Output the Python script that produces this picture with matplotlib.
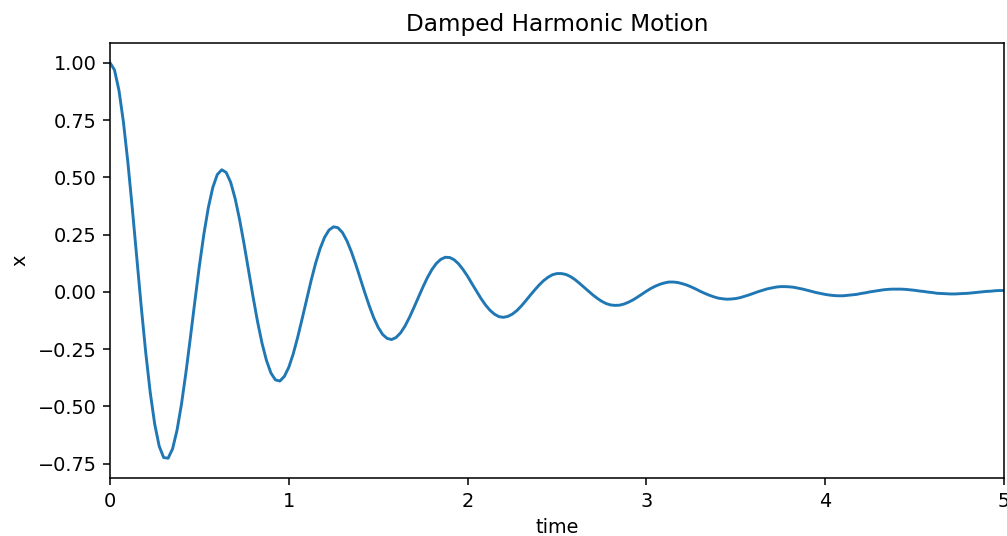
import numpy as np
import matplotlib
matplotlib.use("Agg")
import matplotlib.pyplot as plt

# time axis: 0 .. 5 in steps of 0.025 (201 samples)
t_start, t_end, n_samples = 0.0, 5.0, 201
time = np.linspace(t_start, t_end, n_samples)

# displacement values
x = [
    1.000, 0.969, 0.880, 0.742, 0.565, 0.362, 0.147, -0.067, -0.266, -0.439,
    -0.577, -0.673, -0.723, -0.726, -0.685, -0.603, -0.489, -0.350, -0.197, -0.039,
    0.114, 0.252, 0.368, 0.456, 0.512, 0.533, 0.521, 0.478, 0.407, 0.315,
    0.208, 0.094, -0.021, -0.129, -0.223, -0.299, -0.354, -0.384, -0.389, -0.369,
    -0.329, -0.270, -0.197, -0.116, -0.032, 0.050, 0.125, 0.189, 0.238, 0.270,
    0.284, 0.280, 0.259, 0.223, 0.175, 0.119, 0.058, -0.003, -0.061, -0.113,
    -0.155, -0.186, -0.203, -0.208, -0.199, -0.179, -0.149, -0.111, -0.068, -0.023,
    0.021, 0.062, 0.097, 0.124, 0.142, 0.151, 0.150, 0.140, 0.122, 0.097,
    0.068, 0.035, 0.003, -0.029, -0.057, -0.080, -0.097, -0.108, -0.111, -0.107,
    -0.097, -0.082, -0.062, -0.039, -0.015, 0.008, 0.030, 0.049, 0.064, 0.075,
    0.080, 0.080, 0.076, 0.067, 0.054, 0.038, 0.021, 0.004, -0.013, -0.028,
    -0.041, -0.051, -0.057, -0.059, -0.058, -0.053, -0.045, -0.035, -0.023, -0.010,
    0.003, 0.015, 0.025, 0.033, 0.039, 0.043, 0.043, 0.041, 0.036, 0.030,
    0.022, 0.013, 0.003, -0.006, -0.014, -0.021, -0.027, -0.030, -0.032, -0.031,
    -0.029, -0.025, -0.019, -0.013, -0.006, 0.001, 0.007, 0.013, 0.017, 0.021,
    0.023, 0.023, 0.022, 0.020, 0.016, 0.012, 0.007, 0.002, -0.003, -0.007,
    -0.011, -0.014, -0.016, -0.017, -0.017, -0.015, -0.013, -0.011, -0.007, -0.004,
    -0.000, 0.003, 0.006, 0.009, 0.011, 0.012, 0.012, 0.012, 0.011, 0.009,
    0.007, 0.004, 0.002, -0.001, -0.003, -0.006, -0.007, -0.008, -0.009, -0.009,
    -0.008, -0.007, -0.006, -0.004, -0.002, -0.000, 0.002, 0.003, 0.005, 0.006,
    0.006,
]

dpi = 139
fig, ax = plt.subplots(figsize=(1007 / dpi, 536 / dpi), dpi=dpi)
fig.subplots_adjust(left=110 / 1007, right=1004 / 1007, bottom=1 - 478 / 536, top=1 - 43 / 536)

ax.plot(time, x)
ax.set_xlim(t_start, t_end)
ax.set_xlabel('time')
ax.set_ylabel('x')
ax.set_title('Damped Harmonic Motion')

fig.savefig('out.png', dpi=dpi)
